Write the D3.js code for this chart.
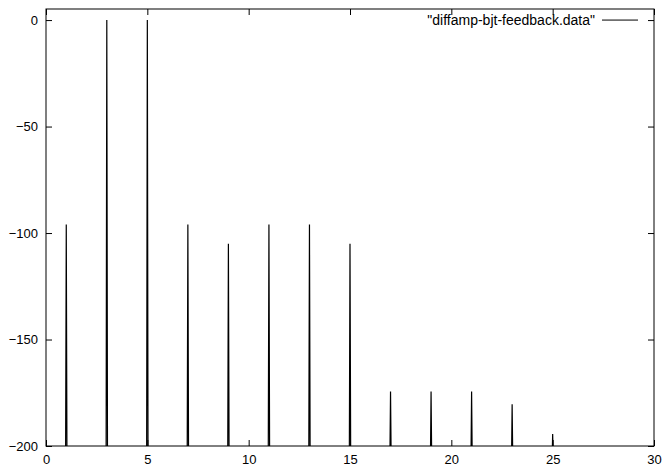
<!DOCTYPE html>
<html>
<head>
<meta charset="utf-8">
<script src="https://cdn.jsdelivr.net/npm/d3@7"></script>
<style>
	body { margin: 0; background: #fff; }
	svg text { font-family: "Liberation Sans", Arial, Helvetica, sans-serif; font-size: 13px; fill: #000; }
</style>
</head>
<body>
<div id="chart"></div>
<script>
// harmonic number (x) and level of each spike (y, dB)
let harmonics = [1, 3, 5, 7, 9, 11, 13, 15, 17, 19, 21, 23, 25];
let levels = [-96, 0, 0, -96, -105, -96, -96, -105, -174.4, -174.4, -174.4, -180.4, -194.4];
let floorLevel = -210; // noise floor sits below the plotted range
let xTicks = [0, 5, 10, 15, 20, 25, 30];
let yTicks = [0, -50, -100, -150, -200];
let seriesName = "\"diffamp-bjt-feedback.data\"";

let width = 662,
	height = 469,
	margin = {top: 9, right: 8, bottom: 23, left: 46};

let plotW = width - margin.left - margin.right,
	plotH = height - margin.top - margin.bottom;

let xScale = d3.scaleLinear()
	.domain([0, 30])
	.range([0, plotW]);

let yScale = d3.scaleLinear()
	.domain([-200, 5.2])
	.range([plotH, 0]);

let svg = d3.select("#chart")
	.append("svg")
	.attr("width", width)
	.attr("height", height)
	.append("g")
	.attr("transform", "translate(" + margin.left + "," + margin.top + ")");

svg.append("defs").append("clipPath")
	.attr("id", "plotClip")
	.append("rect")
	.attr("width", plotW)
	.attr("height", plotH);

// ticks point inwards on all four sides, labels only bottom and left
function styleAxis(g) {
	g.select(".domain").remove();
	g.selectAll(".tick line").attr("stroke", "#000");
}

svg.append("g")
	.attr("transform", "translate(0," + plotH + ")")
	.call(d3.axisBottom(xScale).tickValues(xTicks).tickSize(-6).tickPadding(9))
	.call(styleAxis)
	.selectAll("text").style("font-size", "13px");

svg.append("g")
	.call(d3.axisTop(xScale).tickValues(xTicks).tickSize(-6).tickFormat(""))
	.call(styleAxis);

svg.append("g")
	.call(d3.axisLeft(yScale).tickValues(yTicks).tickSize(-6).tickPadding(8))
	.call(styleAxis)
	.selectAll("text").style("font-size", "13px");

svg.append("g")
	.attr("transform", "translate(" + plotW + ",0)")
	.call(d3.axisRight(yScale).tickValues(yTicks).tickSize(-6).tickFormat(""))
	.call(styleAxis);

// spikes
let half = 0.035;
let line = d3.line()
	.x(function (d) { return xScale(d[0]); })
	.y(function (d) { return yScale(d[1]); });

let spikes = harmonics.map(function (h, i) {
	return [[h - half, floorLevel], [h, levels[i]], [h + half, floorLevel]];
});

svg.append("g")
	.attr("clip-path", "url(#plotClip)")
	.selectAll("path")
	.data(spikes)
	.enter()
	.append("path")
	.attr("d", line)
	.attr("fill", "none")
	.attr("stroke", "#000")
	.attr("stroke-width", 1.2);

// frame
svg.append("rect")
	.attr("width", plotW)
	.attr("height", plotH)
	.attr("fill", "none")
	.attr("stroke", "#000")
	.attr("stroke-width", 1);

// legend
let legend = svg.append("g")
	.attr("transform", "translate(" + (plotW - 52) + "," + yScale(0) + ")");

legend.append("text")
	.attr("x", -7)
	.attr("dy", "0.35em")
	.attr("text-anchor", "end")
	.style("font-size", "14px")
	.text(seriesName);

legend.append("line")
	.attr("x1", 0)
	.attr("x2", 36)
	.attr("stroke", "#000")
	.attr("stroke-width", 1);
</script>
</body>
</html>
